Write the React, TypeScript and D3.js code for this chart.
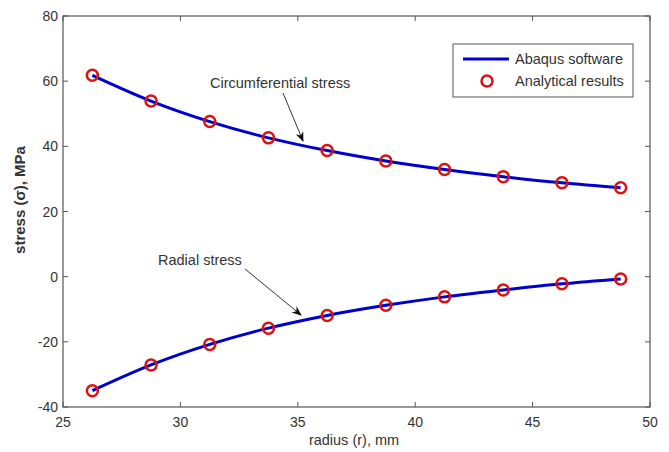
import React from "react";
import * as d3 from "d3";

const radius = [26.25, 28.75, 31.25, 33.75, 36.25, 38.75, 41.25, 43.75, 46.25, 48.75];
const circumferential = [61.8, 53.9, 47.6, 42.6, 38.7, 35.5, 32.9, 30.7, 28.8, 27.3];
const radialStress = [-35.0, -27.1, -20.8, -15.8, -11.9, -8.8, -6.2, -4.1, -2.2, -0.7];
const xTicks = [25, 30, 35, 40, 45, 50];
const yTicks = [-40, -20, 0, 20, 40, 60, 80];

const W = 669, H = 452;
const L = 63, R = 650, T = 16, B = 407;
const font = "Arial, 'Liberation Sans', sans-serif";
const textColor = "#333";

export default function App() {
  const x = d3.scaleLinear().domain([25, 50]).range([L, R]);
  const y = d3.scaleLinear().domain([-40, 80]).range([B, T]);
  const line = d3
    .line<[number, number]>()
    .x((d) => x(d[0]))
    .y((d) => y(d[1]))
    .curve(d3.curveMonotoneX);
  const circPts = radius.map((r, i) => [r, circumferential[i]] as [number, number]);
  const radPts = radius.map((r, i) => [r, radialStress[i]] as [number, number]);
  const tick = 5;
  return (
    <svg width={W} height={H} style={{ position: "absolute", left: 0, top: 0, background: "#fff" }}>
      <defs>
        <marker id="ah" viewBox="0 0 10 10" refX="9" refY="5" markerWidth="10" markerHeight="10" orient="auto" markerUnits="userSpaceOnUse">
          <path d="M0,1 L10,5 L0,9 L3,5 Z" fill="#111" />
        </marker>
      </defs>
      <rect x={0} y={0} width={W} height={H} fill="#fff" />
      {xTicks.map((t) => (
        <g key={"x" + t}>
          <line x1={x(t)} x2={x(t)} y1={B} y2={B - tick} stroke="#555" />
          <line x1={x(t)} x2={x(t)} y1={T} y2={T + tick} stroke="#555" />
          <text x={x(t)} y={B + 20} textAnchor="middle" fontFamily={font} fontSize={14} fill={textColor}>
            {t}
          </text>
        </g>
      ))}
      {yTicks.map((t) => (
        <g key={"y" + t}>
          <line x1={L} x2={L + tick} y1={y(t)} y2={y(t)} stroke="#555" />
          <line x1={R} x2={R - tick} y1={y(t)} y2={y(t)} stroke="#555" />
          <text x={L - 5} y={y(t) + 5} textAnchor="end" fontFamily={font} fontSize={14} fill={textColor}>
            {t}
          </text>
        </g>
      ))}
      <rect x={L} y={T} width={R - L} height={B - T} fill="none" stroke="#555" strokeWidth={1.2} />
      <path d={line(circPts) || ""} fill="none" stroke="#0000cc" strokeWidth={3} />
      <path d={line(radPts) || ""} fill="none" stroke="#0000cc" strokeWidth={3} />
      {circPts.concat(radPts).map((p, i) => (
        <circle key={i} cx={x(p[0])} cy={y(p[1])} r={5.5} fill="none" stroke="#dd1111" strokeWidth={2.5} />
      ))}
      <text x={210} y={88} fontFamily={font} fontSize={14.5} fill={textColor}>
        Circumferential stress
      </text>
      <line x1={283} y1={93} x2={303} y2={141} stroke="#333" strokeWidth={1} markerEnd="url(#ah)" />
      <text x={158} y={265} fontFamily={font} fontSize={14.5} fill={textColor}>
        Radial stress
      </text>
      <line x1={245} y1={269} x2={301} y2={315} stroke="#333" strokeWidth={1} markerEnd="url(#ah)" />
      <rect x={453} y={44} width={180} height={53} fill="#fff" stroke="#555" strokeWidth={1} />
      <line x1={463} x2={509} y1={59} y2={59} stroke="#0000cc" strokeWidth={3} />
      <text x={515} y={64} fontFamily={font} fontSize={14.5} fill={textColor}>
        Abaqus software
      </text>
      <circle cx={487} cy={81} r={5.5} fill="none" stroke="#dd1111" strokeWidth={2.5} />
      <text x={515} y={86} fontFamily={font} fontSize={14.5} fill={textColor}>
        Analytical results
      </text>
      <text x={354} y={445} textAnchor="middle" fontFamily={font} fontSize={14.5} fill={textColor}>
        radius (r), mm
      </text>
      <text
        transform={`translate(25, 200) rotate(-90)`}
        textAnchor="middle"
        fontFamily={font}
        fontSize={15}
        fontWeight="bold"
        fill={textColor}
      >
        stress (σ), MPa
      </text>
    </svg>
  );
}
